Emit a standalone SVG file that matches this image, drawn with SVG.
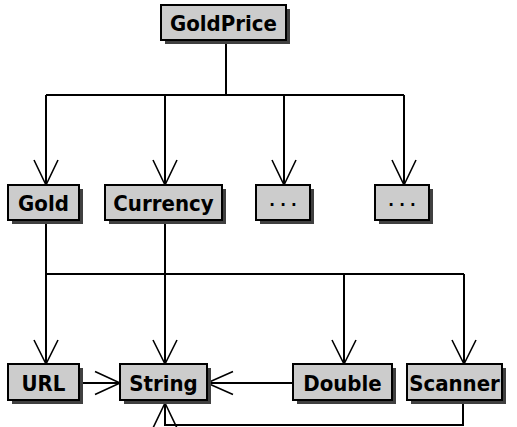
<svg xmlns="http://www.w3.org/2000/svg" width="517" height="427" viewBox="0 0 517 427">
<style>
.shadow{fill:#404040}
.box{fill:#cccccc;stroke:#000;stroke-width:2}
.lbl{font-family:"DejaVu Sans Condensed","DejaVu Sans",sans-serif;font-weight:bold;font-size:22px;text-anchor:middle;fill:#000}
.dots{font-family:"DejaVu Sans",sans-serif;font-weight:bold;font-size:15px;text-anchor:middle;fill:#000}
.ln{fill:none;stroke:#000;stroke-width:2}
.ah{fill:none;stroke:#000;stroke-width:1.6}
</style>
<rect width="517" height="427" fill="#fff"/>
<g id="connectors">
  <path class="ln" d="M226 40V95M46 95H404M46 95V185M165 95V185M284 95V185M404 95V185"/>
  <path class="ah" d="M34 160L46 185L58 160M153 160L165 185L177 160M272 160L284 185L296 160M392 160L404 185L416 160"/>
  <path class="ln" d="M46 220V274M165 220V274M46 274H464M46 274V364M165 274V364M344 274V364M464 274V364"/>
  <path class="ah" d="M34 340L46 364L58 340M153 340L165 364L177 340M332 340L344 364L356 340M452 340L464 364L476 340"/>
  <path class="ln" d="M83 383H120M293 383H207M463 401V425H165V403"/>
  <path class="ah" d="M95 371.5L120 383L95 394.5M233 371.5L207 383L233 394.5M153 428L165 403L177 428"/>
</g>
<g id="GoldPrice"><rect class="shadow" x="165" y="9" width="125" height="35"/><rect class="box" x="161" y="5" width="125" height="35"/><text class="lbl" x="223.5" y="31">GoldPrice</text></g>
<g id="Gold"><rect class="shadow" x="12" y="189" width="71" height="35"/><rect class="box" x="8" y="185" width="71" height="35"/><text class="lbl" x="43.5" y="211">Gold</text></g>
<g id="Currency"><rect class="shadow" x="109" y="189" width="117" height="35"/><rect class="box" x="105" y="185" width="117" height="35"/><text class="lbl" x="163.5" y="211">Currency</text></g>
<g id="Etc1"><rect class="shadow" x="260" y="189" width="54" height="35"/><rect class="box" x="256" y="185" width="54" height="35"/><text class="dots" x="283" y="210">· · ·</text></g>
<g id="Etc2"><rect class="shadow" x="379" y="189" width="54" height="35"/><rect class="box" x="375" y="185" width="54" height="35"/><text class="dots" x="402" y="210">· · ·</text></g>
<g id="URL"><rect class="shadow" x="12" y="368" width="71" height="36"/><rect class="box" x="8" y="364" width="71" height="36"/><text class="lbl" x="43.5" y="390.5">URL</text></g>
<g id="String"><rect class="shadow" x="124" y="368" width="87" height="36"/><rect class="box" x="120" y="364" width="87" height="36"/><text class="lbl" x="163.5" y="390.5">String</text></g>
<g id="Double"><rect class="shadow" x="297" y="368" width="99" height="36"/><rect class="box" x="293" y="364" width="99" height="36"/><text class="lbl" x="342.5" y="390.5">Double</text></g>
<g id="Scanner"><rect class="shadow" x="411" y="368" width="95" height="36"/><rect class="box" x="407" y="364" width="95" height="36"/><text class="lbl" x="454.5" y="390.5">Scanner</text></g>
</svg>
